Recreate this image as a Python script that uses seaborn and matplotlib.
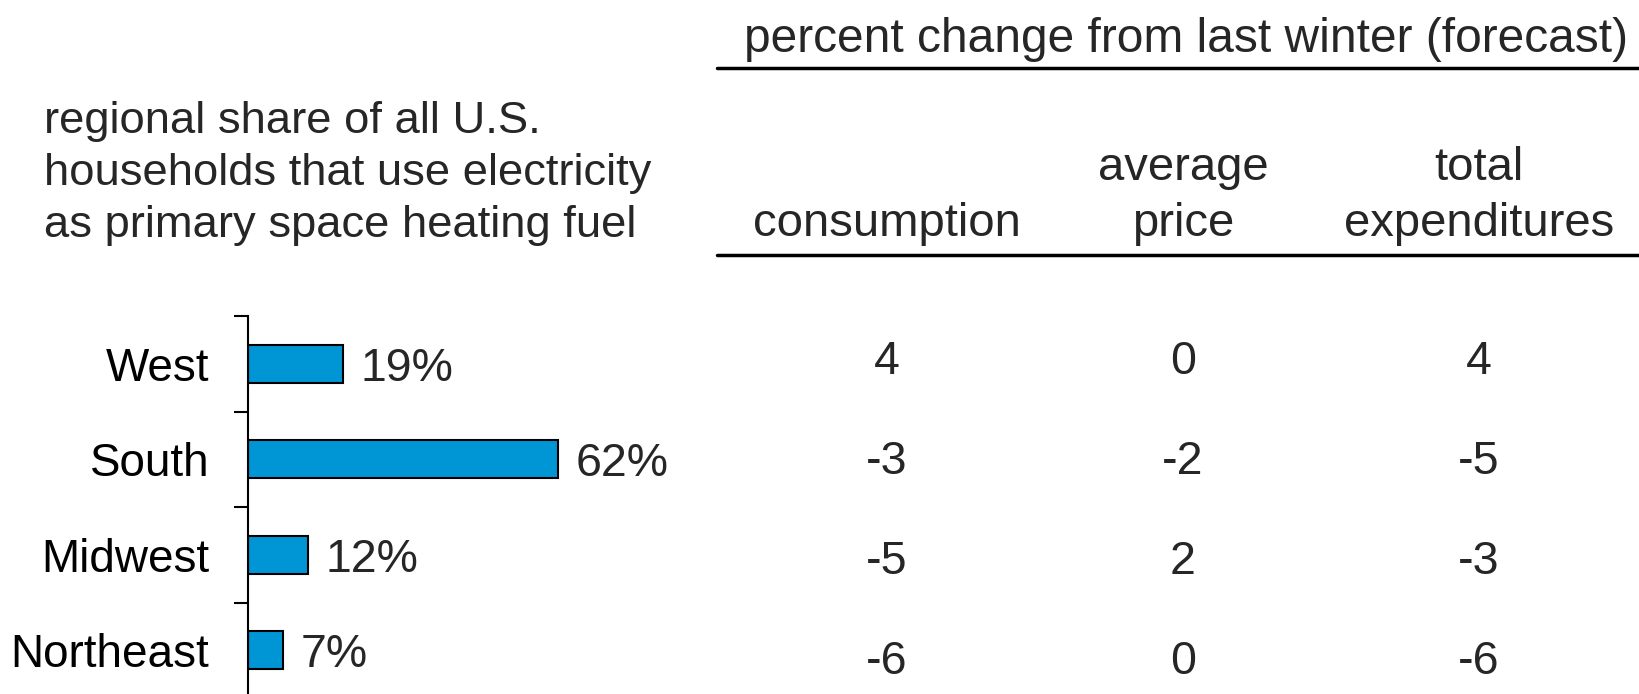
import matplotlib
matplotlib.use('Agg')
import matplotlib.pyplot as plt
import matplotlib.transforms as mtransforms
from matplotlib.lines import Line2D
import seaborn as sns
import pandas as pd

# data
regions = ['West', 'South', 'Midwest', 'Northeast']
share = [19, 62, 12, 7]
consumption = [4, -3, -5, -6]
avg_price = [0, -2, 2, 0]
total_exp = [4, -5, -3, -6]
col_heads = [['consumption'], ['average', 'price'], ['total', 'expenditures']]
left_title = ['regional share of all U.S.',
              'households that use electricity',
              'as primary space heating fuel']
top_title = 'percent change from last winter (forecast)'

W, H = 1640, 694
sns.set_style('white')
plt.rcParams['font.family'] = ['Liberation Sans', 'DejaVu Sans']
fs = 33.5

def fx(px):
    return px / W

def fy(py):
    return 1 - py / H

fig = plt.figure(figsize=(16.4, 6.94), dpi=100)

# bar chart
ax = fig.add_axes([fx(248), fy(698), fx(400), 382 / H])
df = pd.DataFrame({'region': regions, 'share': share})
sns.barplot(data=df, x='share', y='region', order=regions, orient='h',
            color='#0096d6', saturation=1, edgecolor='black', linewidth=1.5,
            width=0.4, ax=ax)
ax.set_xlim(0, 80)
ax.set_ylim(3.5, -0.5)
ax.set_xlabel('')
ax.set_ylabel('')
ax.set_xticks([])
for s in ['top', 'right', 'bottom']:
    ax.spines[s].set_visible(False)
ax.spines['left'].set_color('black')
ax.spines['left'].set_linewidth(1.5)
ax.set_yticks([-0.5, 0.5, 1.5, 2.5, 3.5], minor=True)
ax.tick_params(axis='y', which='major', length=0, pad=28, labelsize=33, labelcolor='black')
ax.tick_params(axis='y', which='minor', length=10, width=1.5, color='black', direction='out', left=True)
for i, v in enumerate(share):
    ax.text(v + 3.6, i, f'{v}%', ha='left', va='center_baseline', fontsize=fs)

# table
ax2 = fig.add_axes([fx(739), fy(707), fx(888), 400 / H])
ax2.set_xlim(-0.5, 2.5)
ax2.set_ylim(3.5, -0.5)
ax2.axis('off')
for j, col in enumerate([consumption, avg_price, total_exp]):
    for i, v in enumerate(col):
        ax2.text(j, i, str(v), ha='center', va='center_baseline', fontsize=fs)

trans = mtransforms.blended_transform_factory(ax2.transData, fig.transFigure)
for j, lines in enumerate(col_heads):
    base = [236] if len(lines) == 1 else [180, 236]
    for ln, b in zip(lines, base):
        ax2.text(j, fy(b), ln, transform=trans, ha='center', va='baseline', fontsize=34)

fig.text(fx(1186), fy(52), top_title, ha='center', va='baseline', fontsize=34.5)
for k, ln in enumerate(left_title):
    fig.text(fx(44), fy(133 + 52 * k), ln, ha='left', va='baseline', fontsize=32.7)

fig.add_artist(Line2D([fx(717), 1], [fy(68), fy(68)], color='black', lw=2.5))
fig.add_artist(Line2D([fx(717), 1], [fy(255), fy(255)], color='black', lw=2.5))

fig.savefig('out.png', dpi=100)
